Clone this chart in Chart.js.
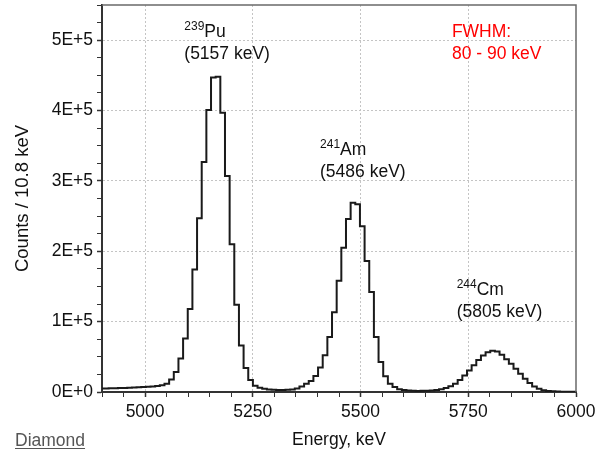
<!DOCTYPE html>
<html>
<head>
<meta charset="utf-8">
<script src="https://cdn.jsdelivr.net/npm/chart.js@4.4.0/dist/chart.umd.min.js"></script>
<style>
  html, body { margin: 0; padding: 0; background: #fff; }
  #wrap { width: 608px; height: 454px; }
</style>
</head>
<body>
<div id="wrap"><canvas id="spectrum"></canvas></div>
<script>
// histogram bins: centre of first bin and bin width (keV)
const BIN_START = 4899.2;
const BIN_WIDTH = 10.8;

// counts per 10.8 keV bin
const counts = [
  4800, 5000, 5200, 5400, 5600, 5800, 6000, 6300, 6600, 7000,
  7400, 7900, 8600, 9500, 11900, 17600, 28400, 47500, 76000, 118000,
  174000, 247000, 327000, 400700, 447000, 448000, 397000, 307000, 210000, 124000,
  66000, 34000, 17000, 9000, 6000, 4500, 3700, 3300, 3000, 3000,
  3100, 3600, 4800, 7800, 11900, 15600, 22800, 34700, 52200, 78200,
  113400, 158000, 205000, 245700, 269000, 267000, 235700, 186000, 142000, 78000,
  42700, 22500, 11900, 7100, 4000, 2800, 2000, 1600, 1500, 1600,
  1800, 2200, 2900, 4000, 5800, 8200, 11900, 17000, 23500, 30500,
  38000, 45500, 52000, 56500, 58500, 57500, 53000, 46500, 40000, 33000,
  26000, 19000, 12800, 7800, 4500, 2500, 1500, 1000, 700, 500,
  400, 300, 300
];

const xMajorTicks = [5000, 5250, 5500, 5750, 6000];
const yMajorTicks = [0, 100000, 200000, 300000, 400000, 500000];
const yTickLabels = ["0E+0", "1E+5", "2E+5", "3E+5", "4E+5", "5E+5"];

const peakNotes = [
  { sup: "239", name: "Pu", energy: "(5157 keV)", atX: 5091, atY: 504000 },
  { sup: "241", name: "Am", energy: "(5486 keV)", atX: 5406, atY: 337000 },
  { sup: "244", name: "Cm", energy: "(5805 keV)", atX: 5723, atY: 137500 }
];
const fwhmNote = ["FWHM:", "80 - 90 keV"];

const FONT = "'Liberation Sans', Arial, sans-serif";
const SIZE = 17.5;

const points = counts.map((c, i) => ({ x: BIN_START + i * BIN_WIDTH, y: c }));

// top/right frame, peak labels and the "Diamond" tag
const extras = {
  id: "extras",
  afterDraw(chart) {
    const { ctx, chartArea: a, scales } = chart;
    ctx.save();
    ctx.strokeStyle = "#6a6a6a";
    ctx.lineWidth = 1.5;
    ctx.beginPath();
    ctx.moveTo(a.left, a.top);
    ctx.lineTo(a.right, a.top);
    ctx.lineTo(a.right, a.bottom);
    ctx.stroke();

    ctx.textBaseline = "alphabetic";
    ctx.textAlign = "left";
    peakNotes.forEach(n => {
      const px = scales.x.getPixelForValue(n.atX);
      const py = scales.y.getPixelForValue(n.atY);
      ctx.fillStyle = "#111";
      ctx.font = "12px " + FONT;
      ctx.fillText(n.sup, px, py - 7);
      const w = ctx.measureText(n.sup).width;
      ctx.font = SIZE + "px " + FONT;
      ctx.fillText(n.name, px + w, py);
      ctx.fillText(n.energy, px, py + 22);
    });

    const fx = scales.x.getPixelForValue(5712);
    const fy = scales.y.getPixelForValue(504000);
    ctx.fillStyle = "#ff0000";
    ctx.font = SIZE + "px " + FONT;
    ctx.fillText(fwhmNote[0], fx, fy);
    ctx.fillText(fwhmNote[1], fx, fy + 22);

    ctx.fillStyle = "#555";
    ctx.font = SIZE + "px " + FONT;
    ctx.fillText("Diamond", 15, 446);
    const dw = ctx.measureText("Diamond").width;
    ctx.strokeStyle = "#555";
    ctx.lineWidth = 1;
    ctx.beginPath();
    ctx.moveTo(15, 448.5);
    ctx.lineTo(15 + dw, 448.5);
    ctx.stroke();
    ctx.restore();
  }
};

new Chart(document.getElementById("spectrum"), {
  type: "line",
  data: {
    datasets: [{
      data: points,
      stepped: "middle",
      borderColor: "#1a1a1a",
      borderWidth: 2,
      pointRadius: 0,
      fill: false
    }]
  },
  options: {
    responsive: true,
    maintainAspectRatio: false,
    animation: false,
    layout: { padding: { top: 5, right: 32, left: 0, bottom: 0 } },
    plugins: { legend: { display: false }, tooltip: { enabled: false } },
    scales: {
      x: {
        type: "linear",
        min: 4900,
        max: 6000,
        afterFit: s => { s.height = 62; },
        ticks: {
          stepSize: 50,
          autoSkip: false,
          maxRotation: 0,
          padding: 5,
          color: "#111",
          font: { family: FONT, size: SIZE },
          callback: v => xMajorTicks.includes(v) ? String(v) : ""
        },
        grid: {
          color: c => (c.tick && xMajorTicks.includes(c.tick.value) && c.tick.value !== 6000) ? "#c4c4c4" : "rgba(0,0,0,0)",
          lineWidth: 1,
          tickColor: "#333",
          tickLength: 5,
          tickWidth: c => (c.tick && xMajorTicks.includes(c.tick.value)) ? 1.5 : 1
        },
        border: { display: true, color: "#333", width: 2, dash: [2, 2] },
        title: {
          display: true,
          text: "Energy, keV",
          color: "#111",
          font: { family: FONT, size: SIZE },
          padding: { top: 0, bottom: 3 }
        }
      },
      y: {
        min: 0,
        max: 550000,
        afterFit: s => { s.width = 102; s.paddingTop = 0; s.paddingBottom = 0; },
        ticks: {
          stepSize: 25000,
          autoSkip: false,
          padding: 4,
          color: "#111",
          font: { family: FONT, size: SIZE },
          callback: v => {
            const k = yMajorTicks.indexOf(v);
            return k >= 0 ? yTickLabels[k] : "";
          }
        },
        grid: {
          color: c => (c.tick && yMajorTicks.includes(c.tick.value) && c.tick.value !== 0) ? "#c4c4c4" : "rgba(0,0,0,0)",
          lineWidth: 1,
          tickColor: "#333",
          tickLength: 5,
          tickWidth: c => (c.tick && yMajorTicks.includes(c.tick.value)) ? 1.5 : 1
        },
        border: { display: true, color: "#333", width: 2, dash: [2, 2] },
        title: {
          display: true,
          text: "Counts / 10.8 keV",
          color: "#111",
          font: { family: FONT, size: 18.5 },
          padding: { top: 12, bottom: 0 }
        }
      }
    }
  },
  plugins: [extras]
});
</script>
</body>
</html>
